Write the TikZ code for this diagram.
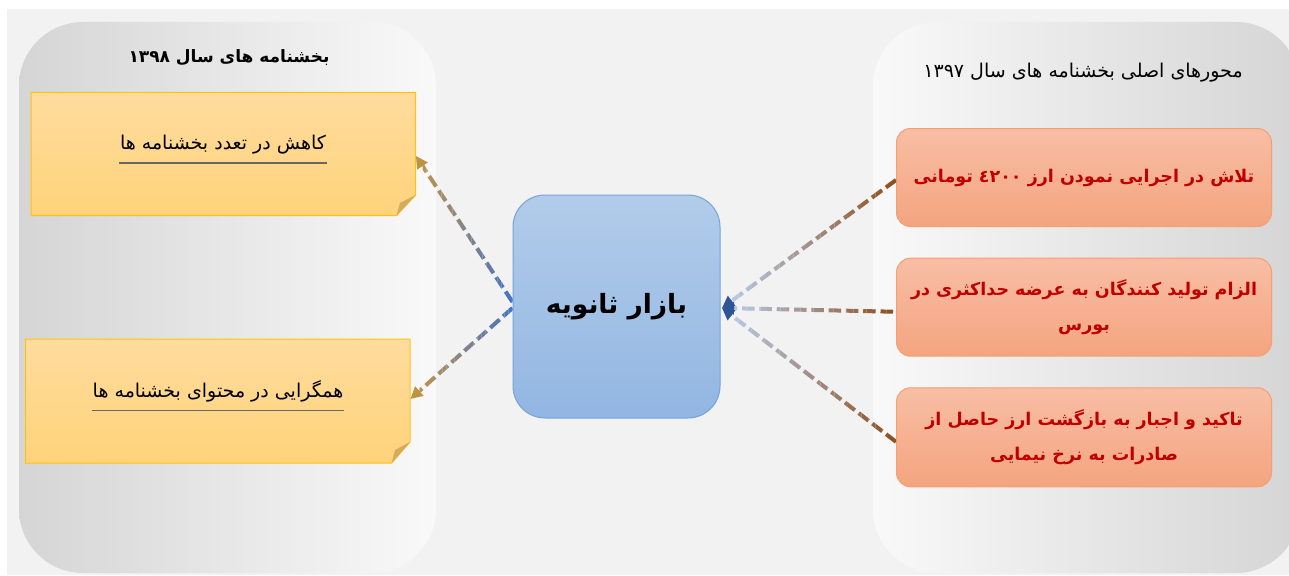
\documentclass[tikz,border=0pt]{standalone}
\usepackage{fontspec}
\usetikzlibrary{arrows.meta,calc}
\TeXXeTstate=1
\newfontfamily\fa[Script=Arabic]{DejaVu Sans}
\definecolor{bgray}{HTML}{F2F2F2}
\definecolor{pdark}{HTML}{D5D5D5}
\definecolor{plight}{HTML}{F9F9F9}
\definecolor{ytop}{HTML}{FFDC9E}
\definecolor{ybot}{HTML}{FFD37A}
\definecolor{yborder}{HTML}{FFC20E}
\definecolor{yfold}{HTML}{D4AA5E}
\definecolor{btop}{HTML}{B2CCEA}
\definecolor{bbot}{HTML}{92B6E2}
\definecolor{bborder}{HTML}{74A4DA}
\definecolor{otop}{HTML}{F8BEA5}
\definecolor{obot}{HTML}{F4A47F}
\definecolor{oborder}{HTML}{F4A070}
\definecolor{otext}{HTML}{C00000}
\definecolor{lblue}{HTML}{4472C4}
\definecolor{ltan}{HTML}{BF9450}
\definecolor{ltip}{HTML}{BE9442}
\definecolor{rbrown}{HTML}{8E4E1C}
\definecolor{rlight}{HTML}{B6CBE8}
\definecolor{rtip}{HTML}{2F5597}
\definecolor{uline}{HTML}{6A6660}
\newcommand\gline[4]{%
  \foreach \i in {0,...,23}{%
    \pgfmathsetmacro\ta{\i/24}%
    \pgfmathsetmacro\tb{(\i+1)/24}%
    \pgfmathsetmacro\pc{100-100*(\i+0.5)/24}%
    \begin{scope}
      \clip let \p1=($#1!\ta!#2$), \p2=($#1!\tb!#2$) in (\x1,-20) rectangle (\x2,620);
      \draw[dline, draw=#3!\pc!#4] #1 -- #2;
    \end{scope}}}
\begin{document}
\begin{tikzpicture}[x=1pt,y=-1pt,
  dline/.style={line width=4pt, dash pattern=on 12.5pt off 4.8pt},
  tiptri/.style={line width=3pt, -{Triangle[length=12pt,width=12pt]}},
  ybox/.style={minimum width=384.7pt, minimum height=123.2pt, inner sep=0pt},
  obox/.style={draw=oborder, line width=1pt, rounded corners=14pt, top color=otop, bottom color=obot,
     minimum width=375pt, inner sep=0pt, text=otext, align=center, font=\fa\bfseries\fontsize{17.5}{35}\selectfont},
  ytext/.style={font=\fa\fontsize{19}{22}\selectfont, inner sep=1pt},
  uln/.style={uline, line width=1.8pt},
]
\useasboundingbox (0,0) rectangle (1289,575);
\fill[white] (0,0) rectangle (1289,575);
\fill[bgray] (7,9) rectangle (1289,575);
% panels
\shade[left color=pdark, right color=plight, rounded corners=64pt] (19,22) rectangle (436,573);
\shade[left color=plight, right color=pdark, rounded corners=64pt] (873,22) rectangle (1300,573);
\node[font=\fa\bfseries\fontsize{17}{20}\selectfont] (lt) at (229,58) {\beginR بخشنامه های سال ۱۳۹۸\endR};
\node[font=\fa\fontsize{19}{22}\selectfont] (rt) at (1083,73) {\beginR محورهای اصلی بخشنامه های سال ۱۳۹۷\endR};
% yellow notes
\shade[top color=ytop, bottom color=ybot, draw=yborder, line width=1pt]
  (31,92.4) -- (415.7,92.4) -- (415.7,195) -- (396.5,215.6) -- (31,215.6) -- cycle;
\fill[yfold] (396.5,215.6) -- (415.7,195) -- (400,203) -- cycle;
\node[ybox] (y1) at (223.35,154) {};
\shade[top color=ytop, bottom color=ybot, draw=yborder, line width=1pt]
  (25.7,339) -- (410,339) -- (410,442) -- (391.7,463) -- (25.7,463) -- cycle;
\fill[yfold] (391.7,463) -- (410,442) -- (395,450) -- cycle;
\node[ybox] (y2) at (217.85,401) {};
\node[ytext] (t1) at (223,145) {\beginR کاهش در تعدد بخشنامه ها\endR};
\draw[uln] ([yshift=-7pt]t1.south west) -- ([yshift=-7pt]t1.south east);
\node[ytext] (t2) at (218,391.5) {\beginR همگرایی در محتوای بخشنامه ها\endR};
\draw[uln] ([yshift=-7pt]t2.south west) -- ([yshift=-7pt]t2.south east);
% central box
\node[draw=bborder, line width=1pt, rounded corners=32pt, top color=btop, bottom color=bbot,
  minimum width=207pt, minimum height=223pt, inner sep=0pt,
  font=\fa\bfseries\fontsize{26.5}{30}\selectfont] (mk) at (616.5,306.5) {\beginR بازار ثانویه\endR};
% orange boxes
\node[obox, minimum height=98pt] (o1) at (1084,177.5) {\beginR تلاش در اجرایی نمودن ارز ٤٢٠٠ تومانی\endR};
\node[obox, minimum height=98pt] (o2) at (1084,307.2) {\beginR الزام تولید کنندگان به عرضه حداکثری در\endR\\\beginR بورس\endR};
\node[obox, minimum height=99pt] (o3) at (1084,437.3) {\beginR تاکید و اجبار به بازگشت ارز حاصل از\endR\\\beginR صادرات به نرخ نیمایی\endR};
% left connectors
\coordinate (a1s) at ([yshift=4.5pt]mk.west);
\coordinate (a1e) at ([yshift=-2pt]y1.east);
\coordinate (a1m) at ($(a1e)!12pt!(a1s)$);
\gline{(a1s)}{(a1m)}{lblue}{ltan}
\draw[tiptri, ltip] (a1m) -- (a1e);
\coordinate (a2s) at ([yshift=-1.5pt]mk.west);
\coordinate (a2e) at ([yshift=2pt]y2.east);
\coordinate (a2m) at ($(a2e)!12pt!(a2s)$);
\gline{(a2s)}{(a2m)}{lblue}{ltan}
\draw[tiptri, ltip] (a2m) -- (a2e);
% right connectors
\coordinate (be) at ([xshift=1.5pt,yshift=-1.5pt]mk.east);
\coordinate (b1s) at ([yshift=-2.5pt]o1.west);
\coordinate (b2s) at ([xshift=-3pt,yshift=-4.5pt]o2.west);
\coordinate (b3s) at ([yshift=-4.5pt]o3.west);
\coordinate (b1m) at ($(be)!12pt!(b1s)$);
\coordinate (b2m) at ($(be)!12pt!(b2s)$);
\coordinate (b3m) at ($(be)!12pt!(b3s)$);
\gline{(b1s)}{(b1m)}{rbrown}{rlight}
\gline{(b2s)}{(b2m)}{rbrown}{rlight}
\gline{(b3s)}{(b3m)}{rbrown}{rlight}
\draw[tiptri, rtip] (b1m) -- (be);
\draw[tiptri, rtip] (b2m) -- (be);
\draw[tiptri, rtip] (b3m) -- (be);
\end{tikzpicture}
\end{document}
